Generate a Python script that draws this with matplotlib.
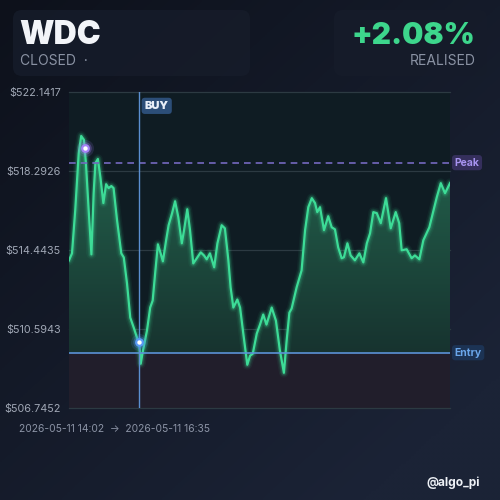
import numpy as np
import matplotlib
matplotlib.use("Agg")
import matplotlib.pyplot as plt
from matplotlib.patches import FancyBboxPatch
from matplotlib.colors import LinearSegmentedColormap
from matplotlib.path import Path
import matplotlib.transforms as mtransforms

plt.rcParams['font.family'] = ['Inter', 'DejaVu Sans']

# data (minutes after 14:02, price)
minutes = [0, 1.2, 2.5, 3.9, 4.9, 6.0, 6.8, 7.9, 9.0, 9.9, 10.6, 11.6, 12.6, 13.8, 14.9, 15.9,
           17.0, 17.9, 19.3, 21.0, 22.0, 23.3, 24.6, 26.0, 27.3, 28.2, 28.8, 29.7, 31.3, 32.6,
           33.6, 34.7, 35.7, 36.8, 37.7, 39.0, 40.0, 41.4, 42.6, 43.9, 45.3, 46.2, 47.5, 48.6,
           49.9, 51.3, 52.9, 54.2, 55.3, 56.6, 58.3, 59.6, 61.3, 62.6, 64.0, 64.9, 66.0, 67.6,
           68.7, 70.0, 71.6, 72.7, 73.8, 75.4, 76.7, 78.0, 79.3, 81.4, 83.1, 84.7, 86.3, 87.4,
           88.5, 89.4, 91.4, 93.4, 94.8, 96.1, 97.5, 98.8, 99.7, 100.8, 102.4, 104.1, 105.5,
           106.8, 108.1, 109.5, 110.4, 111.8, 113.1, 114.8, 116.6, 118.2, 119.6, 120.9, 122.2,
           123.6, 125.2, 127.3, 129.2, 131.2, 132.6, 133.6, 135.6, 137.6, 138.9, 140.7, 142.3,
           144.7, 147.7, 149.3, 151.0, 153.0]
prices = [513.94, 514.28, 516.38, 519.17, 520.00, 519.81, 518.68, 516.38, 514.23, 517.21,
          518.68, 518.88, 518.00, 516.73, 517.65, 517.46, 517.56, 517.46, 515.89, 514.28,
          514.08, 512.81, 511.15, 510.66, 510.17, 509.88, 508.90, 509.54, 510.51, 511.64,
          511.98, 513.45, 514.72, 514.28, 513.89, 514.92, 515.65, 516.24, 516.82, 516.04,
          514.77, 515.41, 516.43, 515.41, 513.79, 514.04, 514.33, 514.18, 513.99, 514.28,
          513.60, 514.77, 515.65, 515.50, 513.94, 512.62, 511.64, 512.03, 511.64, 510.37,
          508.85, 509.29, 509.39, 510.37, 510.81, 511.30, 510.81, 511.64, 511.00, 509.54,
          508.46, 510.03, 511.39, 511.59, 512.62, 513.45, 515.41, 516.53, 516.97, 516.73,
          516.29, 516.53, 515.41, 516.09, 515.55, 515.45, 514.57, 514.04, 514.09, 514.77,
          514.18, 513.94, 514.28, 513.84, 514.77, 515.26, 516.29, 516.24, 515.75, 516.97,
          515.50, 516.29, 515.75, 514.43, 514.48, 514.04, 514.18, 513.99, 514.92, 515.55,
          517.02, 517.70, 517.21, 517.70]

yticks = [522.1417, 518.2926, 514.4435, 510.5943, 506.7452]
entry_price = 509.44
peak_price = 518.70
buy_min, buy_price = 28.2, 509.98
peak_min, peak_pt = 6.3, 519.42
start_label = "2026-05-11 14:02"
end_label = "2026-05-11 16:35"

x = np.array(minutes)
y = np.array(prices)

fig = plt.figure(figsize=(5, 5), dpi=100)

# background gradient
bg = fig.add_axes([0, 0, 1, 1], zorder=-10)
gx, gy = np.meshgrid(np.linspace(0, 1, 200), np.linspace(0, 1, 200))
t = np.clip(0.55 * gx + 0.6 * gy, 0, 1)
c0 = np.array([13, 17, 27]) / 255
c1 = np.array([27, 35, 54]) / 255
img = c0[None, None, :] * (1 - t[..., None]) + c1[None, None, :] * t[..., None]
bg.imshow(img, extent=[0, 1, 0, 1], aspect='auto', origin='upper')
bg.axis('off')

# header cards
for (x0, w) in [(0.026, 0.474), (0.668, 0.306)]:
    card = FancyBboxPatch((x0, 0.848), w, 0.132, boxstyle="round,pad=0,rounding_size=0.018",
                          transform=fig.transFigure, facecolor='#161c2a', edgecolor='none',
                          alpha=0.85, zorder=1)
    fig.patches.append(card)

fig.text(0.038, 0.912, "WDC", color='#f2f4f8', fontsize=23, fontweight='black', va='baseline')
fig.text(0.04, 0.87, "CLOSED  ·", color='#8a92a3', fontsize=10, va='baseline')
fig.text(0.95, 0.912, "+2.08%", color='#3dd68c', fontsize=21.5, fontweight='black',
         va='baseline', ha='right')
fig.text(0.952, 0.87, "REALISED", color='#8a92a3', fontsize=10, va='baseline', ha='right')

# main chart
ax = fig.add_axes([0.138, 0.184, 0.762, 0.632])
ax.set_xlim(0, 153)
ax.set_ylim(yticks[-1], yticks[0])
ax.set_facecolor('#0f1c23')
for s in ax.spines.values():
    s.set_visible(False)
ax.set_xticks([])
ax.set_yticks(yticks)
ax.set_yticklabels([f"${v:.4f}" for v in yticks], color='#a0a7b5', fontsize=7.8)
ax.tick_params(axis='y', length=0, pad=6)

for v in yticks:
    ax.axhline(v, color='#2c3a42', lw=0.9, zorder=1, clip_on=False)

# below entry zone
ax.axhspan(yticks[-1], entry_price, color='#211e2b', zorder=0.5)

# green gradient fill between curve and entry
fill = ax.fill_between(x, y, entry_price, where=y >= entry_price, interpolate=True,
                       color='none', zorder=2)
grad = np.linspace(0, 1, 256).reshape(-1, 1)
cmap = LinearSegmentedColormap.from_list('g', ['#17332f', '#24664f'])
gim = ax.imshow(grad, extent=[0, 153, entry_price, 520.2], origin='lower', aspect='auto',
                cmap=cmap, zorder=2)
gim.set_clip_path(Path.make_compound_path(*fill.get_paths()), transform=ax.transData)
ax.set_xlim(0, 153)
ax.set_ylim(yticks[-1], yticks[0])

# line with glow
for lw, a in [(7, 0.06), (5, 0.1), (3.5, 0.18)]:
    ax.plot(x, y, color='#3ddc97', lw=lw, alpha=a, zorder=3, solid_capstyle='round')
ax.plot(x, y, color='#3ddc97', lw=1.6, zorder=4)

# entry / peak / buy lines
ax.axhline(entry_price, color='#5b93d6', lw=1.2, zorder=5)
ax.axhline(peak_price, color='#7468c0', lw=1.2, ls=(0, (4, 3)), zorder=5)
ax.axvline(buy_min, color='#5b8fd0', lw=1, zorder=5)

# markers
for s, a in [(150, 0.15), (80, 0.3)]:
    ax.scatter([buy_min], [buy_price], s=s, color='#4f8ff0', alpha=a, zorder=6, lw=0)
    ax.scatter([peak_min], [peak_pt], s=s, color='#a07cf5', alpha=a, zorder=6, lw=0)
ax.scatter([buy_min], [buy_price], s=40, color='#5a9af5', zorder=7, lw=0)
ax.scatter([buy_min], [buy_price], s=10, color='white', zorder=8, lw=0)
ax.scatter([peak_min], [peak_pt], s=40, color='#a782f7', zorder=7, lw=0)
ax.scatter([peak_min], [peak_pt], s=10, color='white', zorder=8, lw=0)

# labels
trans = mtransforms.blended_transform_factory(ax.transAxes, ax.transData)
ax.text(1.012, peak_price, "Peak", transform=trans, color='#a793f0', fontsize=7.5,
        fontweight='bold', va='center', ha='left', clip_on=False, zorder=9,
        bbox=dict(boxstyle='round,pad=0.25,rounding_size=0.3', fc='#352f5c', ec='none'))
ax.text(1.012, entry_price, "Entry", transform=trans, color='#6aa6ea', fontsize=7.5,
        fontweight='bold', va='center', ha='left', clip_on=False, zorder=9,
        bbox=dict(boxstyle='round,pad=0.25,rounding_size=0.3', fc='#1c3354', ec='none'))
trans2 = mtransforms.blended_transform_factory(ax.transData, ax.transAxes)
ax.text(buy_min + 2.2, 0.972, "BUY", transform=trans2, color='#e8eef8', fontsize=8,
        fontweight='black', va='top', ha='left', zorder=9,
        bbox=dict(boxstyle='round,pad=0.28,rounding_size=0.3', fc='#2c4e78', ec='none'))

fig.text(0.038, 0.143, f"{start_label}  →  {end_label}", color='#8c94a6', fontsize=7.4,
         va='center')
fig.text(0.96, 0.034, "@algo_pi", color='#eef1f6', fontsize=8.6, fontweight='bold',
         ha='right', va='center')

fig.savefig("out.png", dpi=100, facecolor=fig.get_facecolor())
